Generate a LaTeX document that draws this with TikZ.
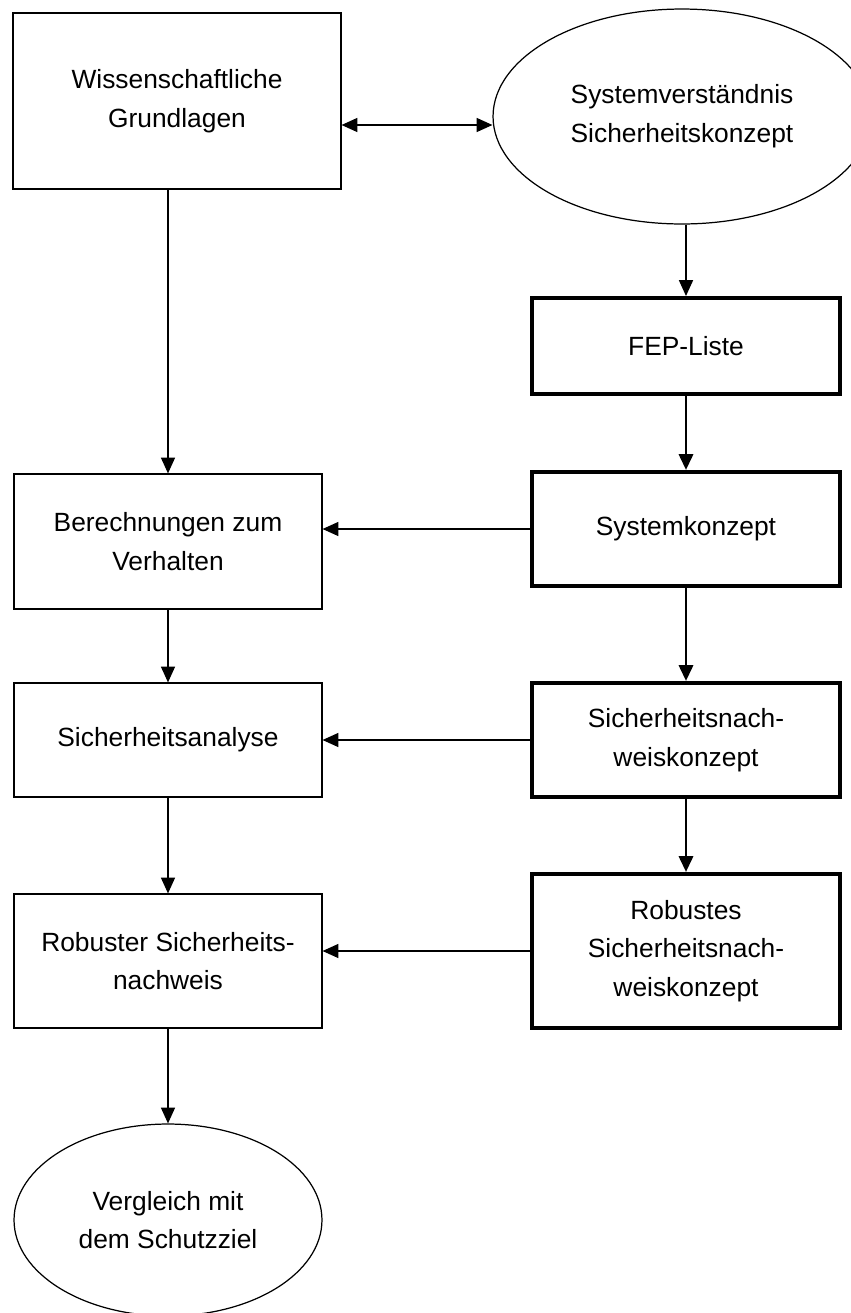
\documentclass[tikz,border=0pt]{standalone}
\usepackage{fontspec}
\setmainfont{Liberation Sans}
\usetikzlibrary{shapes.geometric,arrows.meta}

\begin{document}
\begin{tikzpicture}[x=0.02cm,y=-0.02cm,line width=0.7pt,>={Triangle[length=9pt,width=8pt]},box/.style={shape=rectangle,draw=black,line width=0.7pt,inner sep=0pt,align=center,font=\fontsize{15}{22}\selectfont},boxT/.style={box,line width=2.3pt},oval/.style={box,shape=ellipse},linkT/.style={->,line width=1.7pt}]
\def\xl{168};
\def\xr{686};
\def\bw{6.16cm};

\useasboundingbox (0,0) rectangle (851,1313);

\node[box,minimum width=6.56cm,minimum height=3.52cm] (W) at (177,101) {Wissenschaftliche\\Grundlagen};
\node[oval,minimum width=7.56cm,minimum height=4.3cm] (S) at (682,116.5) {Systemverständnis\\Sicherheitskonzept};
\draw[<->] ([yshift=-0.48cm]W.east) -- ([yshift=-0.48cm]W.east -| S.west);

\node[boxT,minimum width=\bw,minimum height=1.92cm] (F) at (\xr,346) {FEP-Liste};
\draw[->] (S.south -| F.north) -- (F.north);
\node[boxT,minimum width=\bw,minimum height=2.28cm] (K) at (\xr,529) {Systemkonzept};
\draw[linkT] (F) -- (K);
\node[boxT,minimum width=\bw,minimum height=2.28cm] (N) at (\xr,740) {Sicherheitsnach-\\weiskonzept};
\draw[linkT] (K) -- (N);
\node[boxT,minimum width=\bw,minimum height=3.08cm] (R) at (\xr,951) {Robustes\\Sicherheitsnach-\\weiskonzept};
\draw[linkT] (N) -- (R);

\node[box,minimum width=\bw,minimum height=2.7cm] (B) at (\xl,541.5) {Berechnungen zum\\Verhalten};
\draw[->] (B.north |- W.south) -- (B.north);
\draw[->] (K.west) -- (K.west -| B.east);
\node[box,minimum width=\bw,minimum height=2.28cm] (A) at (\xl,740) {Sicherheitsanalyse};
\draw[->] (B) -- (A);
\draw[->] (N.west) -- (N.west -| A.east);
\node[box,minimum width=\bw,minimum height=2.68cm] (RS) at (\xl,961) {Robuster Sicherheits-\\nachweis};
\draw[->] (A) -- (RS);
\draw[->] (R.west) -- (R.west -| RS.east);
\node[oval,minimum width=\bw,minimum height=3.84cm] (V) at (\xl,1220) {Vergleich mit\\dem Schutzziel};
\draw[->] (RS) -- (V);
\end{tikzpicture}
\end{document}
